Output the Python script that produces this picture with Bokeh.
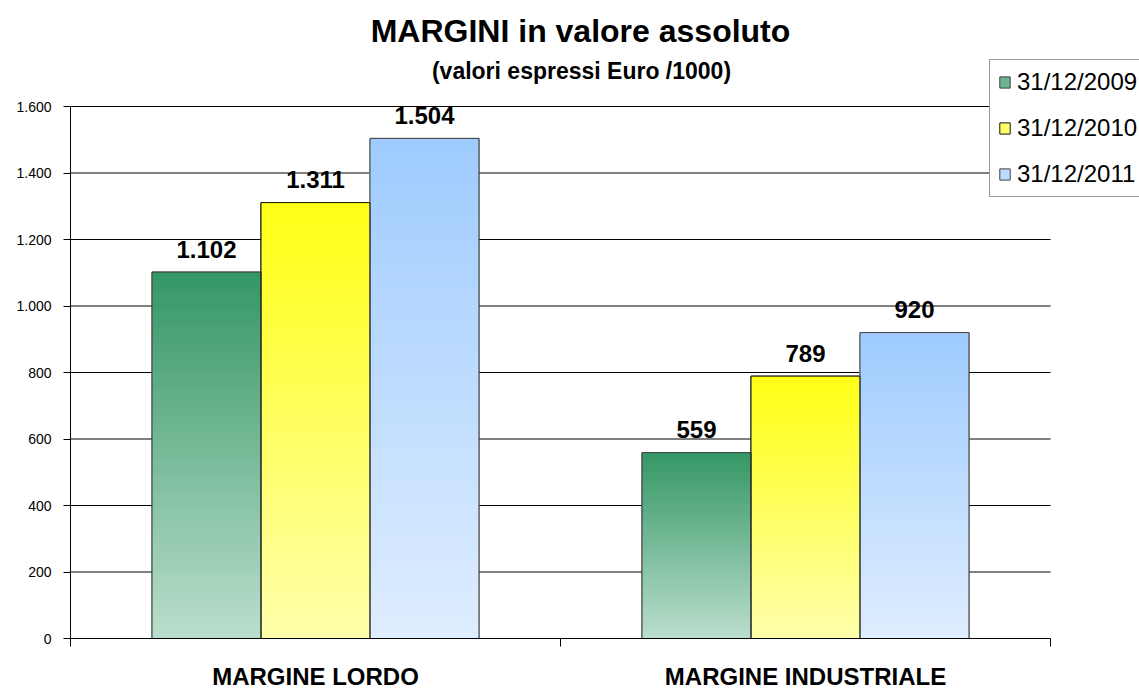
import numpy as np
from bokeh.plotting import figure
from bokeh.models import ColumnDataSource, FixedTicker, Label, Legend, LegendItem, Range1d
from bokeh.embed import file_html
from bokeh.resources import INLINE
from bokeh.core.properties import value

# ---------------- data ----------------
categories = ["MARGINE LORDO", "MARGINE INDUSTRIALE"]
series_names = ["31/12/2009", "31/12/2010", "31/12/2011"]
values_2009 = [1102, 559]
values_2010 = [1311, 789]
values_2011 = [1504, 920]
labels_2009 = ["1.102", "559"]
labels_2010 = ["1.311", "789"]
labels_2011 = ["1.504", "920"]
y_ticks = [0, 200, 400, 600, 800, 1000, 1200, 1400, 1600]
y_tick_labels = ["0", "200", "400", "600", "800", "1.000", "1.200", "1.400", "1.600"]
title_text = "MARGINI in valore assoluto"
subtitle_text = "(valori espressi Euro /1000)"

# ---------------- style / layout ----------------
FONT = "Liberation Sans"
top_colors = [(52, 150, 101), (255, 255, 20), (158, 203, 255)]
bottom_colors = [(186, 222, 204), (255, 255, 170), (222, 237, 255)]
legend_colors = ["#6cb38e", "#ffff66", "#bcdcff"]
outline_colors = ["#404040", "#111111", "#404040"]
bar_w = 0.2224
N_SLICES = 90

FRAME_W, FRAME_H = 1069, 638      # frame reaches to top and right edge of the canvas
PX_PER_X = 490.0                  # pixels per category
PX_PER_Y = 532.0 / 1600.0         # pixels per unit of value
x_end = FRAME_W / PX_PER_X
y_end = FRAME_H / PX_PER_Y

all_values = [values_2009, values_2010, values_2011]
all_labels = [labels_2009, labels_2010, labels_2011]
n_cat = len(categories)
y_max = y_ticks[-1]

p = figure(frame_width=FRAME_W, frame_height=FRAME_H, output_backend="svg", toolbar_location=None,
           x_range=Range1d(0, x_end), y_range=Range1d(0, y_end), title=None,
           min_border_left=70, min_border_right=0, min_border_top=0, min_border_bottom=0)
p.outline_line_color = None
p.background_fill_color = "white"
p.border_fill_color = "white"

def hexcol(c):
    return "#%02x%02x%02x" % tuple(int(round(v)) for v in c)

# horizontal grid lines limited to the category area
p.segment(x0=[0] * len(y_ticks), x1=[n_cat] * len(y_ticks), y0=y_ticks, y1=y_ticks,
          line_color="black", line_width=1)

centers_all = [[i + 0.5 + (j - 1) * bar_w for i in range(n_cat)] for j in range(len(all_values))]

# base bars (also used for the legend swatches)
legend_renderers = []
for j, vals in enumerate(all_values):
    r = p.vbar(x=centers_all[j], top=vals, bottom=0, width=bar_w, fill_color=legend_colors[j],
               line_color=outline_colors[j], line_width=1)
    legend_renderers.append(r)

# gradient slices
xs, bots, tops, cols = [], [], [], []
for j, vals in enumerate(all_values):
    for i, v in enumerate(vals):
        cx = centers_all[j][i]
        for k in range(N_SLICES):
            f = k / N_SLICES
            c = tuple(bottom_colors[j][m] + (top_colors[j][m] - bottom_colors[j][m]) * f for m in range(3))
            xs.append(cx)
            bots.append(v * f)
            tops.append(v)
            cols.append(hexcol(c))

src = ColumnDataSource(dict(x=xs, bottom=bots, top=tops, color=cols))
p.vbar(x="x", bottom="bottom", top="top", width=bar_w, fill_color="color", line_color=None, source=src)

for j, vals in enumerate(all_values):
    s = ColumnDataSource(dict(x=centers_all[j], top=vals, lab=all_labels[j]))
    p.vbar(x="x", top="top", bottom=0, width=bar_w, fill_color=None,
           line_color=outline_colors[j], line_width=1, source=s)
    p.text(x="x", y="top", text="lab", source=s, text_align="center", text_baseline="alphabetic",
           y_offset=-23, text_font=value(FONT), text_font_style="bold", text_font_size="24px",
           text_color="black")

# axes
p.ygrid.grid_line_color = None
p.xgrid.grid_line_color = None

p.yaxis.bounds = (0, y_max)
p.yaxis.ticker = FixedTicker(ticks=y_ticks)
p.yaxis.major_label_overrides = {t: l for t, l in zip(y_ticks, y_tick_labels)}
p.yaxis.major_tick_out = 7
p.yaxis.major_tick_in = 0
p.yaxis.minor_tick_line_color = None
p.yaxis.axis_line_color = "black"
p.yaxis.major_tick_line_color = "black"
p.yaxis.major_label_text_font = FONT
p.yaxis.major_label_text_font_size = "14px"
p.yaxis.major_label_text_color = "black"
p.yaxis.major_label_standoff = 12

p.xaxis.bounds = (0, n_cat)
p.xaxis.ticker = FixedTicker(ticks=[i + 0.5 for i in range(n_cat)], minor_ticks=list(range(n_cat + 1)))
p.xaxis.major_label_overrides = {i + 0.5: c for i, c in enumerate(categories)}
p.xaxis.major_tick_out = 0
p.xaxis.major_tick_in = 0
p.xaxis.minor_tick_out = 8
p.xaxis.minor_tick_in = 0
p.xaxis.minor_tick_line_color = "black"
p.xaxis.axis_line_color = "black"
p.xaxis.major_label_text_font = FONT
p.xaxis.major_label_text_font_size = "24px"
p.xaxis.major_label_text_font_style = "bold"
p.xaxis.major_label_text_color = "black"
p.xaxis.major_label_standoff = 16

# titles
p.add_layout(Label(x=n_cat / 2, y=608, x_units="data", y_units="screen", text=title_text,
                   text_align="center", text_baseline="middle", text_font=FONT,
                   text_font_style="bold", text_font_size="32px", text_color="black",
                   x_offset=20))
p.add_layout(Label(x=n_cat / 2, y=568, x_units="data", y_units="screen", text=subtitle_text,
                   text_align="center", text_baseline="middle", text_font=FONT,
                   text_font_style="bold", text_font_size="23px", text_color="black",
                   x_offset=21))

legend = Legend(items=[LegendItem(label=n, renderers=[r]) for n, r in zip(series_names, legend_renderers)],
                location=(919, 441), orientation="vertical",
                label_text_font=FONT, label_text_font_size="24px", label_text_color="black",
                glyph_width=13, glyph_height=14, label_standoff=6, label_height=26,
                spacing=18, padding=8, margin=0,
                border_line_color="#333333", border_line_width=1,
                background_fill_color="white", background_fill_alpha=1.0)
p.add_layout(legend)

open("out.html", "w").write(file_html(p, INLINE))
